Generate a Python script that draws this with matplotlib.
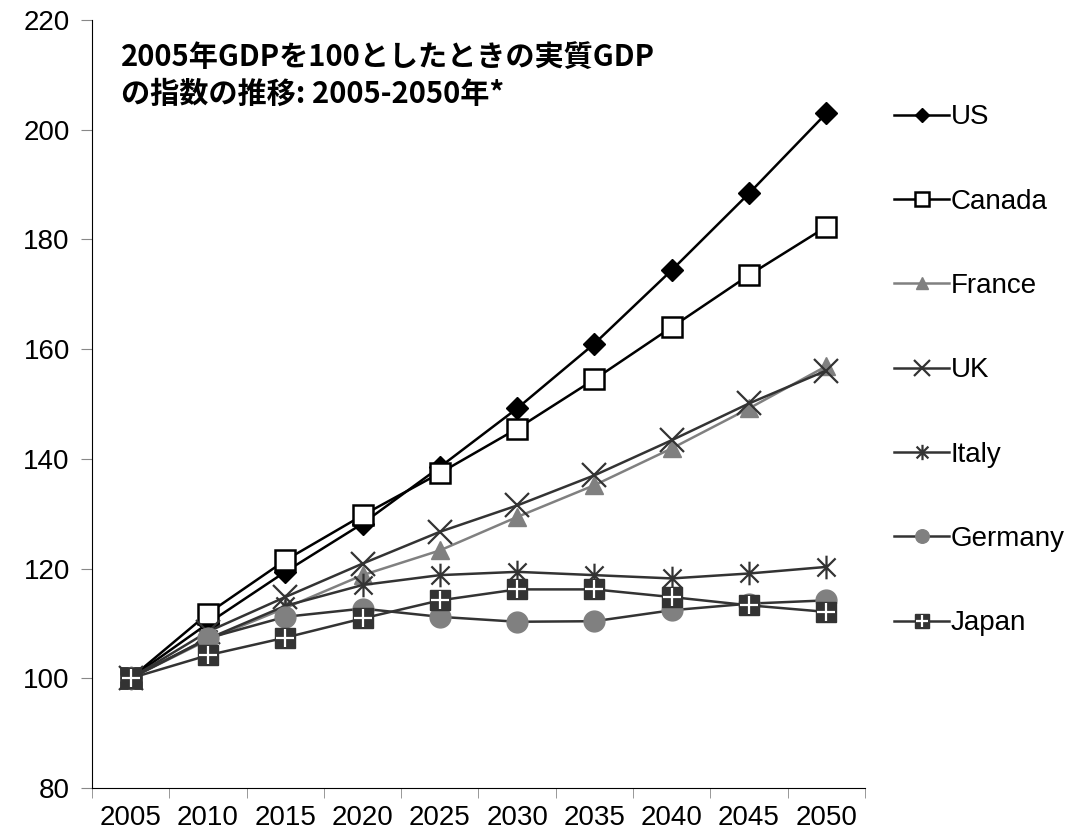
import matplotlib
matplotlib.use("Agg")
import matplotlib.pyplot as plt
from matplotlib.path import Path
from matplotlib.legend_handler import HandlerTuple
import numpy as np

plt.rcParams['font.family'] = ['Liberation Sans', 'Noto Sans CJK JP', 'DejaVu Sans']

# data
years = ["2005", "2010", "2015", "2020", "2025", "2030", "2035", "2040", "2045", "2050"]
us      = [100, 110.0, 119.4, 128.2, 138.5, 149.2, 161.0, 174.4, 188.4, 203.0]
canada  = [100, 111.8, 121.5, 129.7, 137.4, 145.5, 154.5, 164.0, 173.5, 182.3]
france  = [100, 107.0, 112.8, 118.8, 123.3, 129.4, 135.2, 141.9, 149.2, 156.9]
uk      = [100, 108.5, 114.8, 120.9, 126.7, 131.5, 137.0, 143.4, 150.1, 156.1]
italy   = [100, 107.2, 113.2, 117.0, 118.8, 119.4, 118.8, 118.2, 119.1, 120.3]
germany = [100, 107.3, 111.2, 112.7, 111.2, 110.3, 110.4, 112.4, 113.6, 114.2]
japan   = [100, 104.2, 107.4, 110.9, 114.2, 116.2, 116.2, 114.8, 113.3, 112.1]

title = "2005年GDPを100としたときの実質GDP\nの指数の推移: 2005-2050年*"

# asterisk marker: X plus vertical bar
ast = Path([(-1, -1), (1, 1), (-1, 1), (1, -1), (0, -1.3), (0, 1.3)],
           [Path.MOVETO, Path.LINETO, Path.MOVETO, Path.LINETO, Path.MOVETO, Path.LINETO])

fig = plt.figure(figsize=(10.86, 8.34), dpi=100)
ax = fig.add_axes([0.0847, 0.0552, 0.7118, 0.9208])
x = np.arange(len(years))

dk = "#333333"
h_us, = ax.plot(x, us, color="black", lw=1.8, marker="D", ms=11, mfc="black", mec="black", label="US")
h_ca, = ax.plot(x, canada, color="black", lw=1.8, marker="s", ms=15, mfc="white", mec="black", mew=1.8, label="Canada")
h_fr, = ax.plot(x, france, color="#808080", lw=1.8, marker="^", ms=13, mfc="#808080", mec="#808080", label="France")
h_uk, = ax.plot(x, uk, color=dk, lw=1.8, marker="x", ms=17, mew=1.6, mec=dk, label="UK")
h_it, = ax.plot(x, italy, color=dk, lw=1.8, marker=ast, ms=17, mew=1.6, mec=dk, label="Italy")
h_de, = ax.plot(x, germany, color=dk, lw=1.8, marker="o", ms=15, mfc="#808080", mec="#808080", label="Germany")
h_jp, = ax.plot(x, japan, color=dk, lw=1.8, marker="s", ms=15, mfc=dk, mec=dk, label="Japan")
h_jp2, = ax.plot(x, japan, ls="none", marker="+", ms=13, mew=1.6, mec="white")

ax.set_xlim(-0.5, 9.5)
ax.set_ylim(80, 220)
ax.set_yticks(np.arange(80, 221, 20))
ax.set_xticks(x)
ax.set_xticklabels(years)
ax.set_xticks(np.arange(-0.5, 10, 1), minor=True)
ax.tick_params(axis="x", which="major", length=0, labelsize=20, pad=12)
ax.tick_params(axis="x", which="minor", length=7, color="#888888")
ax.tick_params(axis="y", length=8, color="#888888", labelsize=20, pad=8)
ax.spines["top"].set_visible(False)
ax.spines["right"].set_visible(False)

ax.text(0.037, 0.972, title, transform=ax.transAxes, va="top", ha="left",
        fontsize=21, fontweight="bold", family=["Noto Sans CJK JP", "DejaVu Sans"],
        linespacing=1.3)

handles = [h_us, h_ca, h_fr, h_uk, h_it, h_de, (h_jp, h_jp2)]
labels = ["US", "Canada", "France", "UK", "Italy", "Germany", "Japan"]
fig.legend(handles, labels, loc="upper left", bbox_to_anchor=(0.8, 0.905),
           frameon=False, fontsize=20, labelspacing=2.1, handlelength=2.0,
           handletextpad=0.05, markerscale=0.65,
           handler_map={tuple: HandlerTuple(ndivide=1)})

fig.savefig("out.png", dpi=100)
